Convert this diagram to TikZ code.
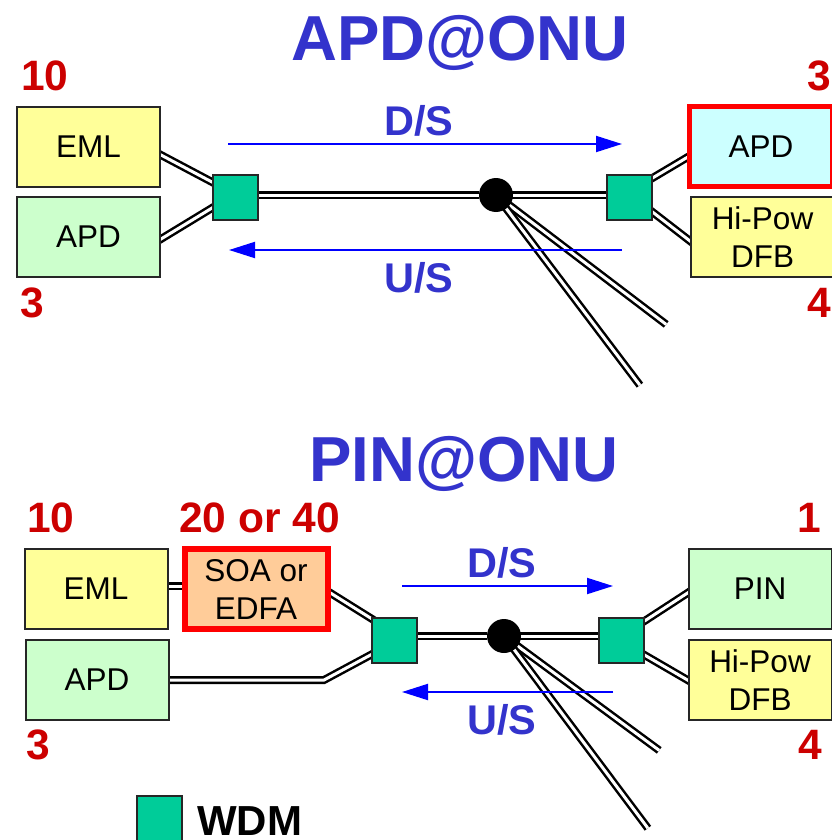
\documentclass[tikz,border=0pt]{standalone}
\usepackage{fontspec}
\setmainfont{Liberation Sans}
\usetikzlibrary{arrows.meta,backgrounds}

\definecolor{wdmgreen}{HTML}{00CC99}
\definecolor{boxyellow}{HTML}{FFFF99}
\definecolor{boxgreen}{HTML}{CCFFCC}
\definecolor{boxcyan}{HTML}{CCFFFF}
\definecolor{boxorange}{HTML}{FFCC99}
\definecolor{headblue}{HTML}{3333CC}
\definecolor{numred}{HTML}{CC0000}

\tikzset{
    box/.style={draw=black!85, line width=2pt, minimum width=143pt, minimum height=80pt, inner sep=0pt, align=center, font=\fontsize{31.5}{38}\selectfont},
    hotbox/.style={box, draw=red, line width=5pt},
    wdm/.style={draw=black!85, fill=wdmgreen, line width=2pt, minimum size=45pt, inner sep=0pt},
    hub/.style={circle, fill=black, minimum size=34pt, inner sep=0pt},
    fiber/.style={draw=black, line width=2.5pt, double=white, double distance=3pt, shorten <=-4pt, shorten >=-4pt},
    flow/.style={blue, line width=2pt, -{Triangle[length=26pt,width=16pt]}},
    heading/.style={headblue, font=\fontsize{63.6}{64}\selectfont\bfseries, inner sep=0pt},
    flowname/.style={headblue, font=\fontsize{41.5}{42}\selectfont\bfseries, inner sep=0pt},
    amount/.style={numred, font=\fontsize{42.5}{42.5}\selectfont\bfseries, inner sep=0pt}
}

\begin{document}
\begin{tikzpicture}[x=1pt, y=-1pt]

        \useasboundingbox (0,0) rectangle (831,840);

        % APD at the ONU
        \node[heading] (titleA) at (460,43) {APD@ONU};
        \node[box, fill=boxyellow] (emlA) at (88.5,147) {EML};
        \node[box, fill=boxgreen] (apdA) at (88.5,237) {APD};
        \node[wdm] (wdmAL) at (235.5,197) {};
        \node[wdm] (wdmAR) at (629,197) {};
        \node[hub] (hubA) at (496,195) {};
        \node[hotbox, fill=boxcyan] (rxA) at (761,146.5) {APD};
        \node[box, fill=boxyellow] (dfbA) at (762.5,237) {Hi-Pow\\DFB};

        \coordinate (tapA1) at (663,322);
        \coordinate (tapA2) at (637.5,382);

        \begin{scope}[on background layer]
            \draw[fiber] ([yshift=-8pt]emlA.east) -- ([yshift=15pt]wdmAL.west);
            \draw[fiber] ([yshift=-2pt]apdA.east) -- ([yshift=-11pt]wdmAL.west);
            \draw[fiber] ([yshift=2pt]wdmAL.east) -- (hubA) -- ([yshift=2pt]wdmAR.west);
            \draw[fiber] ([yshift=19pt]wdmAR.east) -- ([yshift=-11pt]rxA.west);
            \draw[fiber] ([yshift=-15pt]wdmAR.east) -- ([yshift=-4pt]dfbA.west);
            \draw[fiber] (hubA) -- (tapA1);
            \draw[fiber] (hubA) -- (tapA2);
        \end{scope}

        \coordinate (dsAa) at (228,144);
        \coordinate (dsAb) at (622,144);
        \coordinate (usAa) at (622,250);
        \coordinate (usAb) at (229,250);
        \draw[flow] (dsAa) -- (dsAb);
        \draw[flow] (usAa) -- (usAb);
        \node[flowname] (dsA) at (419,121) {D/S};
        \node[flowname] (usA) at (419,278) {U/S};

        \node[amount] (n10A) at (45,76) {10};
        \node[amount] (n3AR) at (819,76) {3};
        \node[amount] (n3AL) at (32,303) {3};
        \node[amount] (n4A) at (819,303) {4};

        % PIN at the ONU
        \node[heading] (titleP) at (464,464) {PIN@ONU};
        \node[box, fill=boxyellow] (emlP) at (96,589) {EML};
        \node[hotbox, line width=6pt, fill=boxorange] (soaP) at (256,589) {SOA or\\EDFA};
        \node[box, fill=boxgreen] (apdP) at (97,680) {APD};
        \node[wdm] (wdmPL) at (394,640) {};
        \node[wdm] (wdmPR) at (621,640) {};
        \node[hub] (hubP) at (504,636) {};
        \node[box, fill=boxgreen] (pinP) at (760,589) {PIN};
        \node[box, fill=boxyellow] (dfbP) at (760,680) {Hi-Pow\\DFB};

        \coordinate (bendP) at (324,680);
        \coordinate (tapP1) at (656,748);
        \coordinate (tapP2) at (645.5,825);

        \begin{scope}[on background layer]
            \draw[fiber] ([yshift=3pt]emlP.east) -- ([yshift=3pt]soaP.west);
            \draw[fiber] ([yshift=-4pt]soaP.east) -- ([yshift=22pt]wdmPL.west);
            \draw[fiber] (apdP.east) -- (bendP) -- ([yshift=-15pt]wdmPL.west);
            \draw[fiber] ([yshift=4pt]wdmPL.east) -- (hubP) -- ([yshift=4pt]wdmPR.west);
            \draw[fiber] ([yshift=19pt]wdmPR.east) -- ([yshift=-4pt]pinP.west);
            \draw[fiber] ([yshift=-15pt]wdmPR.east) -- (dfbP.west);
            \draw[fiber] (hubP) -- (tapP1);
            \draw[fiber] (hubP) -- (tapP2);
        \end{scope}

        \coordinate (dsPa) at (402,586);
        \coordinate (dsPb) at (613,586);
        \coordinate (usPa) at (613,692);
        \coordinate (usPb) at (402,692);
        \draw[flow] (dsPa) -- (dsPb);
        \draw[flow] (usPa) -- (usPb);
        \node[flowname] (dsP) at (502,563) {D/S};
        \node[flowname] (usP) at (502,720) {U/S};

        \node[amount] (n10P) at (51,518) {10};
        \node[amount] (n20P) at (259.5,518) {20 or 40};
        \node[amount] (n1P) at (809,518) {1};
        \node[amount] (n3P) at (38,745) {3};
        \node[amount] (n4P) at (810,745) {4};

        % legend
        \node[wdm] (wdmKey) at (159.5,818) {};
        \node[anchor=west, inner sep=0pt, font=\fontsize{42}{42}\selectfont\bfseries] (keyText) at (197,821) {WDM};

    \end{tikzpicture}
\end{document}
